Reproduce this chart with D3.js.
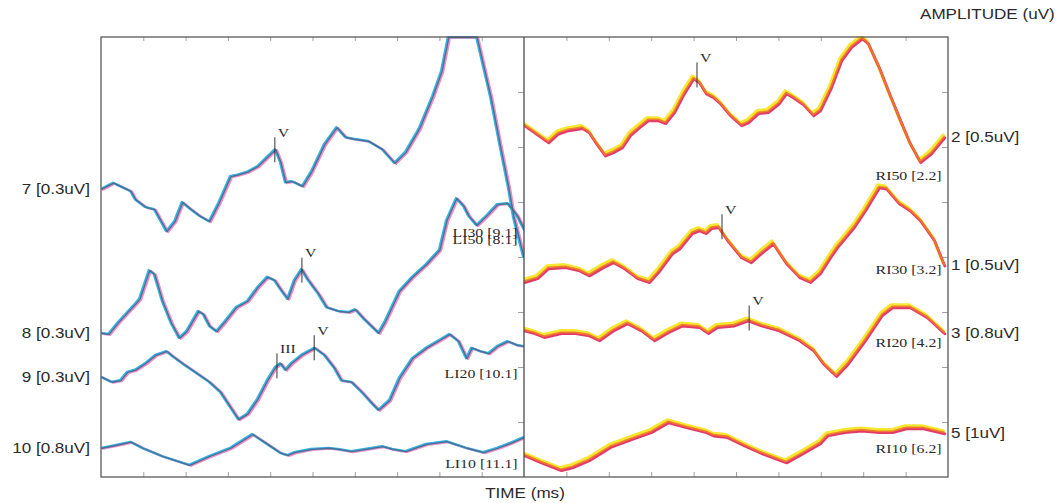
<!DOCTYPE html>
<html>
<head>
<meta charset="utf-8">
<script src="https://cdn.jsdelivr.net/npm/d3@7"></script>
<style>
  html, body { margin: 0; padding: 0; background: #fff; }
  svg { display: block; }
  .sans { font-family: "Liberation Sans", Arial, sans-serif; font-size: 14px; fill: #2a2a2a; }
  .serif { font-family: "Liberation Serif", "Times New Roman", serif; font-size: 13px; fill: #2a2a2a; }
</style>
</head>
<body>
<svg id="chart" width="1061" height="503"></svg>
<script>
// ---- data: time in ms, amplitude in display divisions ----
const timeTicks = [0, 1, 2, 3, 4, 5, 6, 7, 8, 9, 10];
const ampTicks = [1, 2, 3, 4, 5, 6, 7];

// left ear recordings  [time, amplitude]
const li50 = [[0,5.24],[0.28,5.35],[0.50,5.27],[0.69,5.20],[0.80,5.05],[1.04,4.91],[1.25,4.87],[1.54,4.47],[1.73,4.65],[1.91,5.00],[2.08,4.89],[2.32,4.75],[2.55,4.65],[2.77,4.98],[3.05,5.47],[3.19,5.49],[3.45,5.55],[3.69,5.65],[3.92,5.82],[4.11,5.96],[4.23,5.73],[4.35,5.36],[4.49,5.38],[4.56,5.36],[4.75,5.29],[4.96,5.55],[5.27,6.05],[5.56,6.36],[5.77,6.18],[5.96,6.15],[6.31,6.11],[6.64,5.96],[6.93,5.71],[7.19,5.91],[7.52,6.35],[7.83,6.93],[8.04,7.38],[8.20,8.00],[8.87,8.00],[9.20,6.91],[9.43,6.00],[9.62,5.27],[9.74,4.73],[9.98,4.00]];
const li30 = [[0,2.62],[0.17,2.60],[0.38,2.80],[0.57,2.96],[0.80,3.15],[0.90,3.24],[1.13,3.76],[1.25,3.69],[1.44,3.20],[1.65,2.80],[1.84,2.53],[2.01,2.65],[2.29,3.02],[2.41,2.96],[2.55,2.75],[2.72,2.65],[2.93,2.84],[3.19,3.09],[3.45,3.20],[3.69,3.45],[3.92,3.64],[4.09,3.58],[4.23,3.42],[4.40,3.24],[4.56,3.58],[4.73,3.78],[4.87,3.60],[5.13,3.33],[5.32,3.09],[5.60,3.02],[5.84,3.00],[6.00,3.05],[6.19,2.89],[6.55,2.62],[6.71,2.84],[7.04,3.38],[7.35,3.64],[7.68,3.87],[7.99,4.13],[8.16,4.67],[8.39,5.07],[8.56,4.93],[8.68,4.75],[8.87,4.58],[9.10,4.75],[9.36,4.96],[9.60,4.98],[9.83,4.75],[10,4.49]];
const li20 = [[0,1.82],[0.24,1.73],[0.45,1.76],[0.61,1.91],[0.80,1.95],[1.04,2.07],[1.28,2.22],[1.54,2.29],[1.68,2.20],[1.91,2.07],[2.25,1.89],[2.55,1.73],[2.81,1.55],[3.05,1.27],[3.24,1.05],[3.45,1.15],[3.69,1.42],[3.92,1.76],[4.11,2.00],[4.23,2.07],[4.35,1.95],[4.49,2.07],[4.73,2.22],[5.04,2.35],[5.27,2.22],[5.51,1.98],[5.67,1.76],[5.91,1.73],[6.15,1.55],[6.41,1.33],[6.55,1.22],[6.81,1.40],[7.04,1.80],[7.35,2.16],[7.68,2.35],[7.99,2.49],[8.23,2.60],[8.44,2.47],[8.63,2.16],[8.75,2.35],[8.96,2.29],[9.15,2.25],[9.36,2.38],[9.60,2.47],[9.83,2.40],[10,2.38]];
const li10 = [[0,0.53],[0.33,0.58],[0.69,0.64],[0.97,0.53],[1.44,0.38],[2.08,0.22],[2.55,0.38],[3.05,0.53],[3.57,0.78],[3.92,0.60],[4.23,0.44],[4.40,0.40],[4.56,0.45],[4.96,0.51],[5.37,0.53],[5.60,0.51],[5.91,0.47],[6.24,0.51],[6.64,0.56],[6.88,0.51],[7.19,0.47],[7.68,0.60],[8.16,0.65],[8.63,0.53],[9.03,0.45],[9.36,0.53],[9.67,0.62],[10,0.73]];

// right ear recordings  [time, amplitude]
const ri50 = [[0,6.40],[0.24,6.27],[0.57,6.09],[0.80,6.25],[1.04,6.31],[1.37,6.35],[1.53,6.27],[1.70,6.07],[1.91,5.85],[2.10,5.91],[2.31,6.00],[2.50,6.22],[2.71,6.36],[2.92,6.49],[3.16,6.49],[3.33,6.44],[3.54,6.64],[3.77,6.98],[3.99,7.25],[4.13,7.18],[4.29,6.98],[4.46,6.91],[4.62,6.80],[4.86,6.58],[5.12,6.40],[5.28,6.45],[5.52,6.62],[5.75,6.64],[6.01,6.80],[6.18,6.98],[6.34,6.91],[6.58,6.78],[6.82,6.58],[6.98,6.67],[7.24,7.09],[7.48,7.58],[7.71,7.82],[7.97,7.98],[8.11,7.89],[8.37,7.45],[8.61,6.98],[8.87,6.49],[9.10,6.07],[9.34,5.73],[9.60,5.89],[9.91,6.18]];
const ri30 = [[0,3.55],[0.31,3.62],[0.57,3.80],[0.97,3.82],[1.30,3.76],[1.53,3.67],[1.86,3.82],[2.10,3.91],[2.36,3.80],[2.67,3.62],[2.95,3.55],[3.16,3.73],[3.49,4.07],[3.66,4.16],[3.96,4.44],[4.13,4.49],[4.29,4.44],[4.41,4.53],[4.58,4.55],[4.79,4.31],[5.12,4.00],[5.35,3.91],[5.61,4.09],[5.87,4.25],[6.18,3.89],[6.49,3.64],[6.75,3.55],[6.98,3.71],[7.22,4.00],[7.38,4.18],[7.78,4.55],[8.04,4.85],[8.37,5.27],[8.54,5.25],[8.84,4.98],[9.10,4.85],[9.34,4.67],[9.67,4.31],[9.91,3.85]];
const ri20 = [[0,2.67],[0.24,2.62],[0.47,2.55],[0.87,2.62],[1.20,2.62],[1.53,2.58],[1.77,2.49],[2.10,2.67],[2.43,2.80],[2.76,2.67],[3.07,2.49],[3.40,2.64],[3.73,2.76],[4.13,2.73],[4.34,2.62],[4.55,2.73],[4.95,2.76],[5.28,2.85],[5.59,2.76],[6.01,2.67],[6.49,2.49],[6.82,2.31],[7.05,2.07],[7.36,1.84],[7.64,2.07],[8.04,2.49],[8.44,2.95],[8.68,3.09],[9.10,3.09],[9.50,2.91],[9.91,2.62]];
const ri10 = [[0,0.40],[0.40,0.27],[0.87,0.13],[1.13,0.18],[1.53,0.31],[2.03,0.55],[2.59,0.71],[2.99,0.82],[3.40,1.00],[3.82,0.91],[4.29,0.82],[4.46,0.76],[4.79,0.73],[5.19,0.58],[5.59,0.44],[6.18,0.27],[6.58,0.44],[6.98,0.62],[7.15,0.76],[7.55,0.82],[7.95,0.85],[8.37,0.82],[8.68,0.82],[9.01,0.89],[9.41,0.89],[9.91,0.80]];

// channel captions (gain per channel)
const leftChannels = ["7 [0.3uV]", "8 [0.3uV]", "9 [0.3uV]", "10 [0.8uV]"];
const rightChannels = ["2 [0.5uV]", "1 [0.5uV]", "3 [0.8uV]", "5 [1uV]"];
// stimulus tags with wave V latency
const leftTags = ["LI50 [8.1]", "LI30 [9.1]", "LI20 [10.1]", "LI10 [11.1]"];
const rightTags = ["RI50 [2.2]", "RI30 [3.2]", "RI20 [4.2]", "RI10 [6.2]"];
// tag anchors [time, amplitude]
const leftTagAt = [[9.85, 4.24], [9.85, 4.36], [9.85, 1.80], [9.85, 0.16]];
const rightTagAt = [[9.85, 5.40], [9.85, 3.69], [9.85, 2.36], [9.85, 0.44]];

// peak picks: side, time, amplitude, wave
const peakMarks = [
  { side: "L", t: 4.11, v: 5.95, wave: "V" },
  { side: "L", t: 4.75, v: 3.76, wave: "V" },
  { side: "L", t: 4.16, v: 2.02, wave: "III" },
  { side: "L", t: 5.04, v: 2.35, wave: "V" },
  { side: "R", t: 4.08, v: 7.31, wave: "V" },
  { side: "R", t: 4.67, v: 4.55, wave: "V" },
  { side: "R", t: 5.31, v: 2.89, wave: "V" }
];

// ---- layout ----
const svg = d3.select("#chart");
const plotTop = 37, plotBottom = 477;
const xL = d3.scaleLinear().domain([0, 10]).range([101, 524]);
const xR = d3.scaleLinear().domain([0, 10]).range([524, 948]);
const y = d3.scaleLinear().domain([0, 8]).range([plotBottom, plotTop]);
const STRETCH = 1.22;

function label(x0, y0, str, cls, anchor) {
  svg.append("text")
    .attr("class", cls)
    .attr("text-anchor", anchor)
    .attr("transform", `translate(${x0},${y0}) scale(${STRETCH},1)`)
    .text(str);
}

// clip regions for each panel
const defs = svg.append("defs");
defs.append("clipPath").attr("id", "clipL").append("rect")
  .attr("x", xL(0)).attr("y", plotTop - 1).attr("width", xL(10) - xL(0)).attr("height", plotBottom - plotTop + 2);
defs.append("clipPath").attr("id", "clipR").append("rect")
  .attr("x", xR(0)).attr("y", plotTop - 1).attr("width", xR(10) - xR(0)).attr("height", plotBottom - plotTop + 2);

// ticks
function ticks(x) {
  const gT = svg.append("g").attr("transform", `translate(0,${plotTop})`)
    .call(d3.axisTop(x).tickValues(timeTicks.slice(1, -1)).tickSize(-4).tickFormat(""));
  const gB = svg.append("g").attr("transform", `translate(0,${plotBottom})`)
    .call(d3.axisBottom(x).tickValues(timeTicks.slice(1, -1)).tickSize(-5).tickFormat(""));
  const gRt = svg.append("g").attr("transform", `translate(${x(10)},0)`)
    .call(d3.axisLeft(y).tickValues(ampTicks).tickSize(6).tickFormat(""));
  [gT, gB, gRt].forEach(g => {
    g.select(".domain").remove();
    g.selectAll("line").attr("stroke", "#a0a0a0").attr("stroke-width", 1);
  });
}
ticks(xL);
ticks(xR);

// traces: each recording is drawn as two slightly offset replicates
const lineL = d3.line().x(d => xL(d[0])).y(d => y(d[1]));
const lineR = d3.line().x(d => xR(d[0])).y(d => y(d[1]));

const leftLayers = [
  { color: "#f08cc4", width: 2.4, dx: 2.0, dy: 0.8, op: 1 },
  { color: "#34b4e2", width: 2.4, dx: 0, dy: 0, op: 1 },
  { color: "#52587e", width: 1.3, dx: 1.0, dy: 0.4, op: 0.8 }
];
const rightLayers = [
  { color: "#f6e830", width: 3.2, dx: -1.0, dy: -2.2, op: 1 },
  { color: "#e23a6c", width: 2.8, dx: 0.6, dy: 0.8, op: 1 },
  { color: "#f27a28", width: 1.8, dx: 0, dy: -0.6, op: 0.9 }
];

function drawTraces(series, line, layers, clip) {
  const g = svg.append("g").attr("clip-path", `url(#${clip})`);
  layers.forEach(L => {
    series.forEach(s => {
      g.append("path")
        .datum(s)
        .attr("d", line)
        .attr("transform", `translate(${L.dx},${L.dy})`)
        .attr("fill", "none")
        .attr("stroke", L.color)
        .attr("stroke-width", L.width)
        .attr("stroke-opacity", L.op)
        .attr("stroke-linejoin", "round")
        .attr("stroke-linecap", "round");
    });
  });
}
const leftSeries = [li50, li30, li20, li10];
const rightSeries = [ri50, ri30, ri20, ri10];
drawTraces(leftSeries, lineL, leftLayers, "clipL");
drawTraces(rightSeries, lineR, rightLayers, "clipR");

// panel frames
svg.append("rect").attr("x", xL(0)).attr("y", plotTop).attr("width", xR(10) - xL(0)).attr("height", plotBottom - plotTop)
  .attr("fill", "none").attr("stroke", "#5a5a5a").attr("stroke-width", 1.3);
svg.append("line").attr("x1", xL(10)).attr("x2", xL(10)).attr("y1", plotTop).attr("y2", plotBottom)
  .attr("stroke", "#4a4a4a").attr("stroke-width", 1.3);

// peak picks
peakMarks.forEach(p => {
  const x = p.side === "L" ? xL(p.t) : xR(p.t);
  const yc = y(p.v);
  svg.append("line").attr("x1", x).attr("x2", x).attr("y1", yc - 12.5).attr("y2", yc + 12.5)
    .attr("stroke", "#333").attr("stroke-width", 1);
  label(x + 3, yc - 13, p.wave, "serif", "start");
});

// channel captions next to the traces
leftChannels.forEach((c, i) => label(90, y(leftSeries[i][0][1]) + 5, c, "sans", "end"));
rightChannels.forEach((c, i) => {
  const s = rightSeries[i];
  label(951, y(s[s.length - 1][1]) + 5, c, "sans", "start");
});

// stimulus tags
leftTags.forEach((t, i) => label(xL(leftTagAt[i][0]), y(leftTagAt[i][1]), t, "serif", "end"));
rightTags.forEach((t, i) => label(xR(rightTagAt[i][0]), y(rightTagAt[i][1]), t, "serif", "end"));

// axis titles
label(920, 19, "AMPLITUDE (uV)", "sans", "start");
label(525, 498, "TIME (ms)", "sans", "middle");
</script>
</body>
</html>
